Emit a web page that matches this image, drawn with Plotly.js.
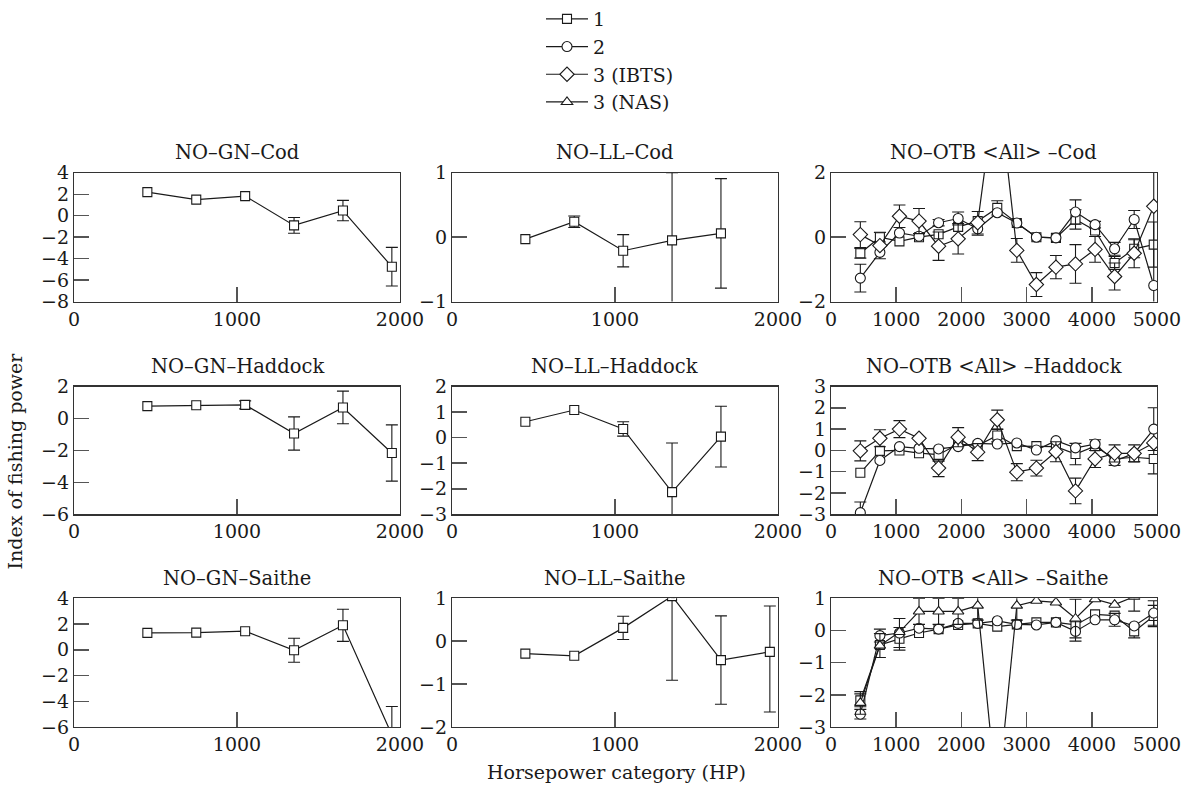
<!DOCTYPE html>
<html>
<head>
<meta charset="utf-8">
<script src="https://cdn.plot.ly/plotly-3.0.1.min.js"></script>
<style>html,body{margin:0;padding:0;background:#fff;}#chart{width:1190px;height:785px;}</style>
</head>
<body>
<div id="chart"></div>
<script>
// ---------- data ----------
const seriesNames = ['1', '2', '3 (IBTS)', '3 (NAS)'];

const xSix = [450, 750, 1050, 1350, 1650, 1950];
const xFive = [450, 750, 1050, 1350, 1650];
const xOTB = [450, 750, 1050, 1350, 1650, 1950, 2250, 2550, 2850, 3150, 3450, 3750, 4050, 4350, 4650, 4950];

const xTicksShort = [0, 1000, 2000];
const xTicksLong = [0, 1000, 2000, 3000, 4000, 5000];

// NO-GN-Cod
const gnCodY = [2.2, 1.5, 1.83, -0.9, 0.48, -4.75];
const gnCodErr = [NaN, NaN, NaN, 0.73, 0.95, 1.8];
// NO-LL-Cod
const llCodY = [-0.03, 0.24, -0.21, -0.05, 0.06];
const llCodErr = [NaN, 0.09, 0.25, 1.05, 0.85];
// NO-OTB-Cod
const otbCod1 = [-0.5, 0.0, -0.13, 0.0, 0.09, 0.32, 0.5, 0.91, 0.44, 0.0, -0.02, 0.55, 0.21, -0.8, -0.36, -0.23];
const otbCod1Err = [0.15, 0.15, NaN, NaN, NaN, NaN, NaN, 0.22, NaN, NaN, NaN, 0.3, NaN, 0.2, 0.28, 0.7];
const otbCod2 = [-1.27, -0.47, 0.13, 0.03, 0.45, 0.58, 0.26, 0.76, 0.44, 0.0, -0.02, 0.78, 0.39, -0.36, 0.55, -1.5];
const otbCod2Err = [0.43, 0.2, NaN, NaN, 0.1, 0.2, 0.2, NaN, NaN, NaN, NaN, 0.38, 0.1, 0.2, 0.28, 3.6];
const otbCod3 = [0.08, -0.26, 0.65, 0.5, -0.28, -0.05, 0.45, 5.0, -0.41, -1.47, -0.93, -0.83, -0.38, -1.22, -0.5, 0.96];
const otbCod3Err = [0.4, NaN, 0.35, 0.39, 0.44, 0.47, 0.35, NaN, 0.37, 0.37, 0.36, 0.6, 0.4, 0.42, 0.45, NaN];
// NO-GN-Haddock
const gnHadY = [0.77, 0.83, 0.85, -0.94, 0.69, -2.16];
const gnHadErr = [NaN, NaN, 0.25, 1.04, 1.02, 1.76];
// NO-LL-Haddock
const llHadY = [0.62, 1.08, 0.34, -2.13, 0.04];
const llHadErr = [NaN, NaN, 0.28, 1.92, 1.19];
// NO-OTB-Haddock
const otbHad1 = [-1.05, -0.02, 0.0, -0.13, -0.2, 0.3, 0.23, 0.7, 0.2, 0.2, 0.18, -0.17, 0.2, -0.4, -0.32, -0.4];
const otbHad1Err = [NaN, NaN, NaN, NaN, 0.3, NaN, NaN, 0.3, NaN, NaN, NaN, 0.5, NaN, 0.3, 0.2, 0.7];
const otbHad2 = [-2.92, -0.47, 0.18, 0.1, 0.07, 0.18, 0.33, 0.3, 0.35, 0.02, 0.46, 0.12, 0.3, -0.5, -0.14, 1.0];
const otbHad2Err = [0.5, NaN, NaN, NaN, NaN, NaN, NaN, NaN, NaN, NaN, NaN, NaN, 0.2, NaN, NaN, 1.0];
const otbHad3 = [-0.02, 0.57, 1.0, 0.57, -0.83, 0.62, -0.08, 1.44, -1.02, -0.83, -0.06, -1.9, -0.4, -0.14, -0.14, 0.35];
const otbHad3Err = [0.47, 0.4, 0.4, NaN, 0.4, 0.45, 0.4, 0.45, 0.4, 0.37, 0.47, 0.6, 0.4, 0.4, 0.4, NaN];
// NO-GN-Saithe
const gnSaiY = [1.31, 1.33, 1.44, -0.04, 1.9, -6.6];
const gnSaiErr = [NaN, NaN, NaN, 0.93, 1.25, 2.2];
// NO-LL-Saithe (asymmetric bars)
const llSaiY = [-0.29, -0.34, 0.31, 1.05, -0.44, -0.25];
const llSaiErrUp = [NaN, NaN, 0.27, 1.96, 1.03, 1.07];
const llSaiErrDown = [NaN, NaN, 0.27, 1.96, 1.03, 1.4];
// NO-OTB-Saithe
const otbSai1 = [-2.17, -0.45, -0.26, -0.08, 0.04, 0.17, 0.22, 0.12, 0.19, 0.25, 0.25, 0.17, 0.5, 0.46, -0.03, 0.45];
const otbSai1Err = [0.2, NaN, 0.35, NaN, NaN, NaN, NaN, NaN, NaN, NaN, NaN, NaN, NaN, NaN, 0.2, 0.33];
const otbSai2 = [-2.6, -0.16, -0.08, 0.07, 0.04, 0.22, 0.22, 0.3, 0.19, 0.17, 0.25, -0.03, 0.33, 0.33, 0.14, 0.54];
const otbSai2Err = [0.15, 0.2, 0.45, NaN, NaN, NaN, NaN, NaN, NaN, NaN, NaN, 0.3, NaN, 0.2, NaN, 0.38];
const otbSai4 = [-2.25, -0.47, -0.05, 0.59, 0.59, 0.59, 0.77, -5.3, 0.77, 0.92, 0.87, 0.37, 0.97, 0.8, 1.05, 1.3];
const otbSai4Err = [0.35, 0.37, NaN, 0.4, 0.4, 0.4, 0.45, NaN, 0.45, NaN, NaN, 0.6, NaN, NaN, 0.45, NaN];

// ---------- panels ----------
const panels = [
  {title: 'NO–GN–Cod', xr: [0, 2000], xt: xTicksShort, yr: [-8, 4], dt: 2,
   series: [{k: 0, x: xSix, y: gnCodY, e: gnCodErr}]},
  {title: 'NO–LL–Cod', xr: [0, 2000], xt: xTicksShort, yr: [-1, 1], dt: 1,
   series: [{k: 0, x: xFive, y: llCodY, e: llCodErr}]},
  {title: 'NO–OTB &lt;All&gt; –Cod', xr: [0, 5000], xt: xTicksLong, yr: [-2, 2], dt: 2,
   series: [{k: 0, x: xOTB, y: otbCod1, e: otbCod1Err},
            {k: 1, x: xOTB, y: otbCod2, e: otbCod2Err},
            {k: 2, x: xOTB, y: otbCod3, e: otbCod3Err}]},
  {title: 'NO–GN–Haddock', xr: [0, 2000], xt: xTicksShort, yr: [-6, 2], dt: 2,
   series: [{k: 0, x: xSix, y: gnHadY, e: gnHadErr}]},
  {title: 'NO–LL–Haddock', xr: [0, 2000], xt: xTicksShort, yr: [-3, 2], dt: 1,
   series: [{k: 0, x: xFive, y: llHadY, e: llHadErr}]},
  {title: 'NO–OTB &lt;All&gt; –Haddock', xr: [0, 5000], xt: xTicksLong, yr: [-3, 3], dt: 1,
   series: [{k: 0, x: xOTB, y: otbHad1, e: otbHad1Err},
            {k: 1, x: xOTB, y: otbHad2, e: otbHad2Err},
            {k: 2, x: xOTB, y: otbHad3, e: otbHad3Err}]},
  {title: 'NO–GN–Saithe', xr: [0, 2000], xt: xTicksShort, yr: [-6, 4], dt: 2,
   series: [{k: 0, x: xSix, y: gnSaiY, e: gnSaiErr}]},
  {title: 'NO–LL–Saithe', xr: [0, 2000], xt: xTicksShort, yr: [-2, 1], dt: 1,
   series: [{k: 0, x: xSix, y: llSaiY, e: llSaiErrUp, em: llSaiErrDown}]},
  {title: 'NO–OTB &lt;All&gt; –Saithe', xr: [0, 5000], xt: xTicksLong, yr: [-3, 1], dt: 1,
   series: [{k: 0, x: xOTB, y: otbSai1, e: otbSai1Err},
            {k: 1, x: xOTB, y: otbSai2, e: otbSai2Err},
            {k: 3, x: xOTB, y: otbSai4, e: otbSai4Err}]}
];

// ---------- styling ----------
const W = 1190, H = 785;
const FONT = 'DejaVu Serif, Liberation Serif, serif';
const INK = '#1a1a1a';
const TICKSIZE = 19, TITLESIZE = 19.5;
const symbols = ['square', 'circle', 'diamond', 'triangle-up'];
const msizes = [9, 10, 11, 10];
const colPx = [[74, 400], [452, 778], [831, 1157]];
const rowPx = [[172, 301], [386, 514], [598, 727]];

const traces = [];
const layout = {
  width: W, height: H,
  margin: {l: 0, r: 0, t: 0, b: 0},
  paper_bgcolor: '#fff', plot_bgcolor: '#fff',
  font: {family: FONT, size: TICKSIZE, color: INK},
  showlegend: true,
  legend: {x: 541 / W, y: 1 + 1 / H, xanchor: 'left', yanchor: 'top',
           font: {family: FONT, size: TICKSIZE, color: INK},
           itemwidth: 42, tracegroupgap: 0, bgcolor: 'rgba(0,0,0,0)'},
  annotations: [],
  shapes: []
};

const shown = {};
panels.forEach((p, i) => {
  const r = Math.floor(i / 3), c = i % 3;
  const n = i + 1;
  const xa = 'xaxis' + (n === 1 ? '' : n), ya = 'yaxis' + (n === 1 ? '' : n);
  const xref = 'x' + (n === 1 ? '' : n), yref = 'y' + (n === 1 ? '' : n);
  const xd = [colPx[c][0] / W, colPx[c][1] / W];
  const yd = [(H - rowPx[r][1]) / H, (H - rowPx[r][0]) / H];
  const yt = [];
  for (let v = p.yr[0]; v <= p.yr[1] + 1e-9; v += p.dt) yt.push(v);
  layout[xa] = {domain: xd, anchor: yref, range: p.xr, tickvals: p.xt,
    ticks: 'inside', ticklen: 15, tickwidth: 1.5, tickcolor: '#555',
    showline: true, linecolor: '#333', linewidth: 1.2, mirror: true,
    showgrid: false, zeroline: false, fixedrange: true,
    tickfont: {family: FONT, size: TICKSIZE, color: INK}};
  layout[ya] = {domain: yd, anchor: xref, range: p.yr, tickvals: yt,
    ticks: 'inside', ticklen: 15, tickwidth: 1.5, tickcolor: '#555',
    showline: true, linecolor: '#333', linewidth: 1.2, mirror: true,
    showgrid: false, zeroline: false, fixedrange: true,
    tickfont: {family: FONT, size: TICKSIZE, color: INK}};
  layout.annotations.push({text: p.title, xref: 'paper', yref: 'paper',
    x: (xd[0] + xd[1]) / 2, y: (H - rowPx[r][0] + 20) / H,
    xanchor: 'center', yanchor: 'middle', showarrow: false,
    font: {family: FONT, size: TITLESIZE, color: INK}});
  p.series.forEach(s => {
    const first = !shown[s.k];
    shown[s.k] = true;
    const err = {type: 'data', array: s.e, visible: true, color: INK,
                 thickness: 1.1, width: 6};
    if (s.em) { err.symmetric = false; err.arrayminus = s.em; }
    traces.push({
      type: 'scatter', mode: 'lines+markers', x: s.x, y: s.y,
      xaxis: xref, yaxis: yref,
      name: seriesNames[s.k], legendgroup: 'g' + s.k, showlegend: first,
      line: {color: INK, width: 1.2},
      marker: {symbol: symbols[s.k], size: msizes[s.k], color: '#fff',
               line: {color: INK, width: 1.1}},
      error_y: err
    });
  });
});

layout.annotations.push({text: 'Index of fishing power', xref: 'paper', yref: 'paper',
  x: 15 / W, y: (H - 461) / H, textangle: -90, showarrow: false,
  xanchor: 'center', yanchor: 'middle', font: {family: FONT, size: TICKSIZE, color: INK}});
layout.annotations.push({text: 'Horsepower category (HP)', xref: 'paper', yref: 'paper',
  x: 616 / W, y: (H - 772) / H, showarrow: false,
  xanchor: 'center', yanchor: 'middle', font: {family: FONT, size: TICKSIZE, color: INK}});

Plotly.newPlot('chart', traces, layout, {displayModeBar: false, staticPlot: true});
</script>
</body>
</html>
